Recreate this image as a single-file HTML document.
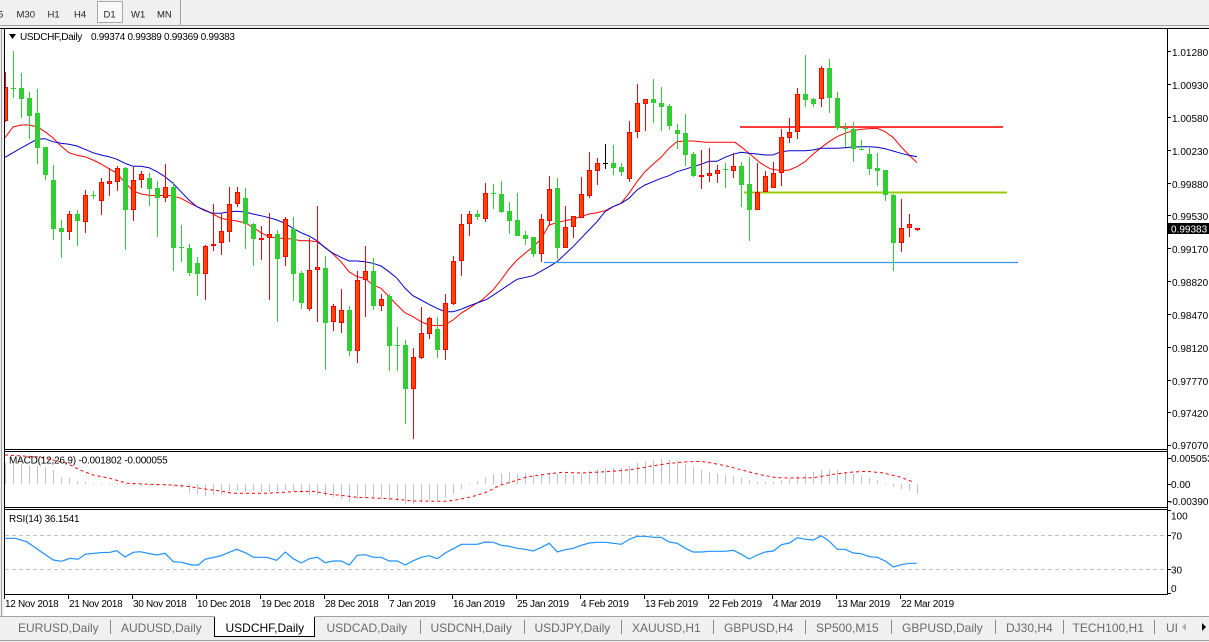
<!DOCTYPE html>
<html><head><meta charset="utf-8"><style>
html,body{margin:0;padding:0;background:#fff;}
svg{display:block;font-family:"Liberation Sans",sans-serif;}
</style></head><body>
<svg width="1209" height="642" viewBox="0 0 1209 642" xmlns="http://www.w3.org/2000/svg">
<defs>
<clipPath id="cm"><rect x="5" y="29" width="1162" height="420"/></clipPath>
<clipPath id="cd"><rect x="5" y="452" width="1162" height="55"/></clipPath>
<clipPath id="cr"><rect x="5" y="510" width="1162" height="84"/></clipPath>
</defs>
<!-- toolbar -->
<rect x="0" y="0" width="1209" height="28" fill="#f0f0f0"/>
<line x1="0" y1="25.5" x2="1209" y2="25.5" stroke="#a0a0a0"/>
<line x1="180.5" y1="0" x2="180.5" y2="25" stroke="#a0a0a0"/>
<rect x="97.5" y="1.5" width="25" height="21" fill="#f8f8f8" stroke="#a8a8a8"/>
<g font-size="9.5" fill="#222">
<text x="-2" y="17.5">5</text>
<text x="16.5" y="17.5">M30</text>
<text x="47.5" y="17.5">H1</text>
<text x="74" y="17.5">H4</text>
<text x="103.5" y="17.5">D1</text>
<text x="131" y="17.5">W1</text>
<text x="157" y="17.5">MN</text>
</g>
<!-- chart frame -->
<rect x="0" y="28" width="4" height="588" fill="#f0f0f0"/>
<line x1="1.5" y1="28" x2="1.5" y2="616" stroke="#a0a0a0"/>
<line x1="0" y1="28.5" x2="1209" y2="28.5" stroke="#000"/>
<line x1="4.5" y1="28" x2="4.5" y2="595" stroke="#000"/>
<line x1="1167.5" y1="28" x2="1167.5" y2="595" stroke="#000"/>
<line x1="4" y1="449.5" x2="1168" y2="449.5" stroke="#000"/>
<line x1="4" y1="451.5" x2="1168" y2="451.5" stroke="#000"/>
<line x1="4" y1="507.5" x2="1168" y2="507.5" stroke="#000"/>
<line x1="4" y1="509.5" x2="1168" y2="509.5" stroke="#000"/>
<line x1="4" y1="594.5" x2="1168" y2="594.5" stroke="#000"/>

<!-- main chart -->
<g clip-path="url(#cm)">
<polyline fill="none" stroke="#ff0000" stroke-width="1" points="5,137.7 13,127 21,125 29,125 37,126.7 45,131.7 53,138 61,146 69,152.7 77,155.3 85,156.7 93,160 101,164 109,168.7 117,173.3 125,182.7 133,190.7 141,194 149,195.3 157,195.7 165,195.3 173,196 181,198.3 189,202.7 197,206.7 205,210 213,214 221,218.3 229,220 237,221 245,222.7 253,227.3 261,232.7 269,236.7 277,238.3 285,238.3 293,239.3 301,240.7 309,240.7 317,241.7 325,247.3 333,254 341,261.7 349,271.7 357,276.7 365,278.3 373,285 381,288.3 389,296.7 397,305 405,312.7 413,316.7 421,321.7 429,325 437,325.7 445,325 453,320 461,313.3 469,308.3 477,303 482,300 493,290 501,280 509,269 517,260 525,253.3 533,246.7 541,239.3 549,225 557,222.7 565,220.7 573,219 581,216.7 589,214 597,212.7 605,210.7 613,206.7 621,203.3 629,193.3 637,181.7 645,171.7 653,164.3 661,157.3 669,148.3 677,141.7 685,141 693,141 706,142.3 735,142.3 743,148.3 751,155 760,162.7 770,168.7 781,170.7 789,170 797,166.7 805,161.7 813,154.3 821,147.7 829,141.7 837,136.7 845,133.3 853,130.7 861,129.3 869,128.7 877,128.3 885,131.7 893,137.3 901,146.7 909,155 917,162.7"/>
<polyline fill="none" stroke="#0000c8" stroke-width="1" points="5,157.3 13,152.7 21,148 29,143.7 37,139.3 45,138.7 53,141.7 61,143.3 69,144.3 77,146 85,149.3 93,152.7 101,155 109,156.7 117,159.3 125,163.3 133,166.3 141,166.3 149,167.7 157,171.7 165,176.7 173,183.3 181,191.7 189,200 197,206.7 205,210.7 213,213.3 221,213.3 229,211.7 237,211.3 245,212 253,214 261,215.7 269,217.7 277,220 285,223.3 293,228.3 301,232.7 309,236 317,240.7 325,247.7 333,253.3 341,257.3 349,261 357,261 365,261.7 373,263.3 381,266 389,271.7 397,278.3 405,288.3 413,295.7 421,300 429,304.3 437,308.3 445,311.7 453,311.7 461,309.3 469,306 477,303 487,299.3 501,290 517,279.3 533,275.7 549,266.7 557,261.7 565,254.3 573,246.7 581,238.3 589,230 597,221.7 605,211.7 613,206.7 621,203.3 629,198.3 637,190 645,185 653,181.7 661,178.3 669,175.7 677,171.7 685,169.3 693,166.7 701,164.3 709,161.3 717,161.3 725,157.3 733,154.3 741,152.3 749,153.3 757,154 765,155 773,155 781,151.7 789,150.7 797,150.7 805,150.7 813,150 821,148.3 829,148.3 837,148.3 845,147.7 853,147 861,146.7 869,146.7 877,147.3 885,148.7 893,151 901,153.3 909,155.3 917,156.7"/>
<!-- horizontal lines -->
<line x1="740" y1="127" x2="1003" y2="127" stroke="#ff3b3b" stroke-width="2"/>
<line x1="744" y1="192.5" x2="1007" y2="192.5" stroke="#99cc00" stroke-width="2"/>
<line x1="544" y1="262.5" x2="1018" y2="262.5" stroke="#3399ee" stroke-width="1.3"/>
<!-- red wicks -->
<path fill="none" stroke="#ff0000" stroke-width="1" d="M5.5 72V122M69.5 211V240M85.5 190V233M101.5 178V215M109.5 168V196M117.5 166V191M133.5 167V221M141.5 171V188M165.5 164V202M205.5 245V300M213.5 204V251M221.5 213V255M229.5 187V242M237.5 187V207M261.5 226V260M269.5 213V300M285.5 217V266M309.5 238V311M317.5 206V322M333.5 304V331M341.5 289V333M357.5 271V363M365.5 246V317M381.5 294V311M413.5 348V439M421.5 307V359M429.5 317V339M445.5 294V360M453.5 256V305M461.5 214V276M469.5 211V236M485.5 183V222M541.5 214V262M549.5 176V226M565.5 206V248M573.5 216V238M581.5 177V218M589.5 152V198M597.5 158V185M629.5 121V182M637.5 84V138M645.5 99V131M701.5 150V189M709.5 148V182M717.5 165V183M733.5 153V178M757.5 163V210M765.5 171V192M773.5 162V188M781.5 129V186M789.5 118V143M797.5 88V139M821.5 66V107M901.5 199V252M909.5 214V237M917.5 228V231"/>
<!-- green wicks -->
<path fill="none" stroke="#32cd32" stroke-width="1" d="M13.5 51V98M21.5 73V118M29.5 92V139M37.5 89V164M45.5 147V180M53.5 165V240M61.5 220V258M77.5 210V246M93.5 191V199M125.5 167V250M149.5 173V206M157.5 181V237M173.5 182V271M181.5 225V262M189.5 244V276M197.5 257V296M245.5 188V249M253.5 223V266M277.5 230V322M293.5 217V301M301.5 271V309M325.5 256V370M349.5 306V356M373.5 258V310M389.5 294V371M397.5 327V371M405.5 340V424M437.5 317V358M477.5 210V220M493.5 184V209M501.5 181V213M509.5 202V234M517.5 193V236M525.5 231V245M533.5 237V257M557.5 178V259M613.5 145V175M621.5 163V176M653.5 79V123M661.5 87V131M669.5 104V130M677.5 124V149M685.5 114V166M693.5 152V177M725.5 163V188M741.5 162V207M749.5 157V241M805.5 55V107M813.5 98V107M829.5 59V113M837.5 92V130M845.5 123V147M853.5 122V162M861.5 140V150M869.5 148V175M877.5 153V186M885.5 170V201M893.5 194V271"/>
<!-- red bodies -->
<g fill="#ff4500" stroke="#ff0000" stroke-width="1">
<rect x="3.5" y="87.5" width="4" height="33"/>
<rect x="67.5" y="214.5" width="4" height="17"/>
<rect x="83.5" y="195.5" width="4" height="26"/>
<rect x="99.5" y="182.5" width="4" height="18"/>
<rect x="107.5" y="181.5" width="4" height="2"/>
<rect x="115.5" y="168.5" width="4" height="13"/>
<rect x="131.5" y="180.5" width="4" height="29"/>
<rect x="139.5" y="174.5" width="4" height="5"/>
<rect x="163.5" y="187.5" width="4" height="10"/>
<rect x="203.5" y="246.5" width="4" height="27"/>
<rect x="211.5" y="244.5" width="4" height="1"/>
<rect x="219.5" y="231.5" width="4" height="11"/>
<rect x="227.5" y="204.5" width="4" height="27"/>
<rect x="235.5" y="192.5" width="4" height="11"/>
<rect x="259.5" y="238.5" width="4" height="1"/>
<rect x="267.5" y="234.5" width="4" height="3"/>
<rect x="283.5" y="219.5" width="4" height="37"/>
<rect x="307.5" y="270.5" width="4" height="38"/>
<rect x="315.5" y="267.5" width="4" height="2"/>
<rect x="331.5" y="306.5" width="4" height="15"/>
<rect x="339.5" y="310.5" width="4" height="12"/>
<rect x="355.5" y="280.5" width="4" height="70"/>
<rect x="363.5" y="271.5" width="4" height="8"/>
<rect x="379.5" y="299.5" width="4" height="6"/>
<rect x="411.5" y="357.5" width="4" height="31"/>
<rect x="419.5" y="333.5" width="4" height="24"/>
<rect x="427.5" y="318.5" width="4" height="15"/>
<rect x="443.5" y="303.5" width="4" height="46"/>
<rect x="451.5" y="261.5" width="4" height="42"/>
<rect x="459.5" y="224.5" width="4" height="36"/>
<rect x="467.5" y="214.5" width="4" height="9"/>
<rect x="483.5" y="193.5" width="4" height="25"/>
<rect x="539.5" y="219.5" width="4" height="34"/>
<rect x="547.5" y="189.5" width="4" height="31"/>
<rect x="563.5" y="227.5" width="4" height="20"/>
<rect x="571.5" y="216.5" width="4" height="10"/>
<rect x="579.5" y="194.5" width="4" height="23"/>
<rect x="587.5" y="170.5" width="4" height="25"/>
<rect x="595.5" y="163.5" width="4" height="7"/>
<rect x="627.5" y="132.5" width="4" height="46"/>
<rect x="635.5" y="103.5" width="4" height="28"/>
<rect x="643.5" y="99.5" width="4" height="4"/>
<rect x="699.5" y="175.5" width="4" height="1"/>
<rect x="707.5" y="173.5" width="4" height="2"/>
<rect x="715.5" y="170.5" width="4" height="3"/>
<rect x="731.5" y="166.5" width="4" height="4"/>
<rect x="755.5" y="192.5" width="4" height="17"/>
<rect x="763.5" y="176.5" width="4" height="15"/>
<rect x="771.5" y="173.5" width="4" height="14"/>
<rect x="779.5" y="137.5" width="4" height="35"/>
<rect x="787.5" y="132.5" width="4" height="5"/>
<rect x="795.5" y="94.5" width="4" height="37"/>
<rect x="819.5" y="68.5" width="4" height="30"/>
<rect x="899.5" y="228.5" width="4" height="14"/>
<rect x="907.5" y="224.5" width="4" height="3"/>
<rect x="915.5" y="228.5" width="4" height="1"/>
</g>
<!-- green bodies -->
<g fill="#32cd32" stroke="#32cd32" stroke-width="1">
<rect x="19.5" y="88.5" width="4" height="10"/>
<rect x="27.5" y="98.5" width="4" height="17"/>
<rect x="35.5" y="113.5" width="4" height="34"/>
<rect x="43.5" y="147.5" width="4" height="27"/>
<rect x="51.5" y="180.5" width="4" height="48"/>
<rect x="59.5" y="228.5" width="4" height="3"/>
<rect x="75.5" y="214.5" width="4" height="6"/>
<rect x="123.5" y="168.5" width="4" height="41"/>
<rect x="147.5" y="178.5" width="4" height="10"/>
<rect x="155.5" y="188.5" width="4" height="9"/>
<rect x="171.5" y="187.5" width="4" height="60"/>
<rect x="187.5" y="248.5" width="4" height="24"/>
<rect x="195.5" y="263.5" width="4" height="10"/>
<rect x="243.5" y="198.5" width="4" height="25"/>
<rect x="251.5" y="224.5" width="4" height="14"/>
<rect x="275.5" y="234.5" width="4" height="24"/>
<rect x="291.5" y="229.5" width="4" height="44"/>
<rect x="299.5" y="273.5" width="4" height="29"/>
<rect x="323.5" y="268.5" width="4" height="54"/>
<rect x="347.5" y="310.5" width="4" height="40"/>
<rect x="371.5" y="271.5" width="4" height="34"/>
<rect x="387.5" y="296.5" width="4" height="49"/>
<rect x="403.5" y="345.5" width="4" height="43"/>
<rect x="435.5" y="329.5" width="4" height="20"/>
<rect x="475.5" y="214.5" width="4" height="2"/>
<rect x="499.5" y="194.5" width="4" height="17"/>
<rect x="507.5" y="211.5" width="4" height="9"/>
<rect x="515.5" y="220.5" width="4" height="15"/>
<rect x="523.5" y="235.5" width="4" height="3"/>
<rect x="531.5" y="237.5" width="4" height="16"/>
<rect x="555.5" y="188.5" width="4" height="59"/>
<rect x="611.5" y="163.5" width="4" height="4"/>
<rect x="619.5" y="167.5" width="4" height="4"/>
<rect x="651.5" y="99.5" width="4" height="3"/>
<rect x="659.5" y="103.5" width="4" height="3"/>
<rect x="667.5" y="106.5" width="4" height="19"/>
<rect x="675.5" y="130.5" width="4" height="3"/>
<rect x="683.5" y="133.5" width="4" height="21"/>
<rect x="691.5" y="154.5" width="4" height="21"/>
<rect x="739.5" y="166.5" width="4" height="18"/>
<rect x="747.5" y="184.5" width="4" height="25"/>
<rect x="803.5" y="94.5" width="4" height="5"/>
<rect x="811.5" y="99.5" width="4" height="4"/>
<rect x="827.5" y="68.5" width="4" height="29"/>
<rect x="835.5" y="98.5" width="4" height="29"/>
<rect x="851.5" y="129.5" width="4" height="19"/>
<rect x="867.5" y="154.5" width="4" height="14"/>
<rect x="875.5" y="168.5" width="4" height="2"/>
<rect x="883.5" y="170.5" width="4" height="24"/>
<rect x="891.5" y="195.5" width="4" height="47"/>
</g>
<!-- green crosses -->
<g fill="#32cd32">
<rect x="11" y="88" width="5" height="1"/>
<rect x="91" y="195" width="5" height="1"/>
<rect x="179" y="247" width="5" height="1"/>
<rect x="395" y="345" width="5" height="1"/>
<rect x="491" y="193" width="5" height="1"/>
<rect x="723" y="169" width="5" height="1"/>
<rect x="843" y="128" width="5" height="1"/>
<rect x="859" y="149" width="5" height="1"/>
</g>
<path fill="none" stroke="#000" stroke-width="1" d="M605.5 144V169M603 163.5h5"/>
</g>
<!-- header -->
<polygon points="9,34 16,34 12.5,39" fill="#000"/>
<text x="20" y="40" font-size="10" letter-spacing="-0.3" fill="#000">USDCHF,Daily</text>
<text x="91" y="40" font-size="10" letter-spacing="-0.3" fill="#000">0.99374 0.99389 0.99369 0.99383</text>

<!-- right price axis -->
<path stroke="#000" stroke-width="1" d="M1167 51.5h4M1167 84.5h4M1167 117.5h4M1167 150.5h4M1167 183.5h4M1167 215.5h4M1167 248.5h4M1167 281.5h4M1167 314.5h4M1167 347.5h4M1167 380.5h4M1167 412.5h4M1167 445.5h4"/>
<g font-size="10" fill="#000">
<text x="1172" y="56">1.01280</text>
<text x="1172" y="89">1.00930</text>
<text x="1172" y="122">1.00580</text>
<text x="1172" y="155">1.00230</text>
<text x="1172" y="188">0.99880</text>
<text x="1172" y="220">0.99530</text>
<text x="1172" y="253">0.99170</text>
<text x="1172" y="286">0.98820</text>
<text x="1172" y="319">0.98470</text>
<text x="1172" y="352">0.98120</text>
<text x="1172" y="385">0.97770</text>
<text x="1172" y="417">0.97420</text>
<text x="1172" y="449">0.97070</text>
</g>
<rect x="1168" y="223" width="41" height="11" fill="#000"/>
<text x="1171" y="232.5" font-size="10" fill="#fff">0.99383</text>

<!-- MACD -->
<g clip-path="url(#cd)">
<path fill="none" stroke="#c0c0c0" stroke-width="1" d="M5.5 484V463M13.5 484V464M21.5 484V464M29.5 484V465M37.5 484V466M45.5 484V467M53.5 484V470M61.5 484V477M69.5 484V478M77.5 484V481M85.5 484V482M93.5 484V483M101.5 484V485M109.5 484V485M117.5 484V485M125.5 484V485M133.5 484V485M141.5 484V486M149.5 484V486M157.5 484V486M165.5 484V486M173.5 484V487M181.5 484V488M189.5 484V493M197.5 484V494M205.5 484V496M213.5 484V495M221.5 484V494M229.5 484V491M237.5 484V490M245.5 484V492M253.5 484V491M261.5 484V492M269.5 484V492M277.5 484V491M285.5 484V490M293.5 484V491M301.5 484V493M309.5 484V495M317.5 484V495M325.5 484V496M333.5 484V497M341.5 484V499M349.5 484V502M357.5 484V499M365.5 484V498M373.5 484V498M381.5 484V499M389.5 484V500M397.5 484V501M405.5 484V504M413.5 484V504M421.5 484V502M429.5 484V501M437.5 484V501M445.5 484V498M453.5 484V494M461.5 484V489M469.5 484V485M477.5 484V481M485.5 484V477M493.5 484V474M501.5 484V473M509.5 484V472M517.5 484V474M525.5 484V473M533.5 484V475M541.5 484V474M549.5 484V473M557.5 484V474M565.5 484V474M573.5 484V475M581.5 484V473M589.5 484V471M597.5 484V469M605.5 484V468M613.5 484V468M621.5 484V468M629.5 484V466M637.5 484V463M645.5 484V461M653.5 484V460M661.5 484V459M669.5 484V460M677.5 484V461M685.5 484V464M693.5 484V467M701.5 484V470M709.5 484V472M717.5 484V473M725.5 484V475M733.5 484V476M741.5 484V478M749.5 484V480M757.5 484V482M765.5 484V482M773.5 484V482M781.5 484V480M789.5 484V479M797.5 484V476M805.5 484V474M813.5 484V472M821.5 484V470M829.5 484V469M837.5 484V470M845.5 484V472M853.5 484V474M861.5 484V476M869.5 484V478M877.5 484V480M885.5 484V483M893.5 484V487M901.5 484V489M909.5 484V491M917.5 484V494"/>
<polyline fill="none" stroke="#ff0000" stroke-width="1" stroke-dasharray="3 3" points="5,455 40,457 67,463.3 80,470 93,475 110,478.3 127,483.3 150,484.3 173,485 190,486.7 207,489.3 220,491 233,493.3 267,493.3 293,491.7 313,491.3 330,494.3 346.7,496 356.7,497.3 380,498.3 396.7,499.3 413.3,501 446.7,501.3 460,499.3 473.3,496.3 486.7,492 500,485.3 513.3,481.3 526.7,477 546.7,474 563.3,472.3 580,473 600,472 616.7,471 633.3,469.3 650,466.3 666.7,463.7 683.3,462 700,461.3 710,462.7 726.7,466 743.3,470.3 760,474.7 776.7,477.7 793.3,478 813.3,477.7 833.3,474.3 853.3,472 866.7,471.3 883.3,473 900,477 913.3,482"/>
</g>
<text x="9" y="463.5" font-size="10" letter-spacing="-0.2" fill="#000">MACD(12,26,9) -0.001802 -0.000055</text>
<path stroke="#000" d="M1167 458.5h4M1167 484.5h4M1167 501.5h4"/>
<g font-size="10" fill="#000">
<text x="1171" y="462">0.005053</text>
<text x="1171" y="488">0.00</text>
<text x="1169" y="505">-0.003909</text>
</g>

<!-- RSI -->
<g clip-path="url(#cr)">
<line x1="5" y1="535.5" x2="1167" y2="535.5" stroke="#c0c0c0" stroke-dasharray="4 3"/>
<line x1="5" y1="569.5" x2="1167" y2="569.5" stroke="#c0c0c0" stroke-dasharray="4 3"/>
<polyline fill="none" stroke="#1e90ff" stroke-width="1.2" points="5,538.3 15,538.3 26.7,541.7 40,551 53.3,560 61.7,561.3 70,558.3 78.3,559.3 85,554.3 100,552.7 110,552.3 116.7,550.7 125,557 133.3,552.3 140,551.7 156.7,555 165,553.3 173.3,561.7 181.7,562.3 191.7,565 198.3,565 205,559.3 220,556 236.7,549.3 246.7,553.3 253.3,557.3 266.7,557.3 276.7,560.3 285.3,552 293.3,558.7 301.3,563 309.3,558.7 317.3,557.3 325.3,562.7 333.3,561 341.3,561 349.3,565 357.3,555.3 365.3,554.7 373.3,557.3 381.3,557.3 389.3,561 397.3,561 405.3,565 413.3,560.7 421.3,557.3 429.3,555.7 437.3,558.7 445.3,553 453.3,548.7 461.3,544.3 469.3,544.3 477.3,544.3 485.3,542 493.3,542.3 501.3,545.3 509.3,546.3 517.3,548.3 525.3,549.3 533.3,551 541.3,547.3 549.3,543.3 557.3,552 565.3,549.7 573.3,548.3 581.3,545.3 589.3,543 597.3,542.3 605.3,542.3 613.3,543.3 621.3,544.3 629.3,539.3 637.3,536.3 645.3,536.3 653.3,537.3 661.3,537.3 669.3,542 677.3,543.3 685.3,548.3 693.3,552 701.3,552 709.3,551.3 717.3,551.3 725.3,551.3 733.3,550.3 741.3,554.3 749.3,559 757.3,555 765.3,552 773.3,551 781.3,544.7 789.3,543 797.3,537.7 805.3,539.3 813.3,540 821.3,535.7 829.3,541.3 837.3,549.3 845.3,549.3 853.3,553 861.3,553.7 869.3,556.7 877.3,557.3 885.3,561 893.3,567 901.3,564.7 909.3,563.3 916.7,563.3"/>
</g>
<text x="9" y="522" font-size="10" letter-spacing="-0.2" fill="#000">RSI(14) 36.1541</text>
<path stroke="#000" d="M1167 510.5h4M1167 535.5h4M1167 569.5h4M1167 593.5h4"/>
<g font-size="10" fill="#000">
<text x="1171" y="519.5">100</text>
<text x="1171" y="539.5">70</text>
<text x="1171" y="573.5">30</text>
<text x="1171" y="592">0</text>
</g>

<!-- date axis -->
<path stroke="#000" d="M4.5 595v4M68.5 595v4M132.5 595v4M196.5 595v4M260.5 595v4M324.5 595v4M388.5 595v4M452.5 595v4M516.5 595v4M580.5 595v4M644.5 595v4M708.5 595v4M772.5 595v4M836.5 595v4M900.5 595v4"/>
<g font-size="10" letter-spacing="-0.3" fill="#000">
<text x="5" y="607">12 Nov 2018</text>
<text x="69" y="607">21 Nov 2018</text>
<text x="133" y="607">30 Nov 2018</text>
<text x="197" y="607">10 Dec 2018</text>
<text x="261" y="607">19 Dec 2018</text>
<text x="325" y="607">28 Dec 2018</text>
<text x="389" y="607">7 Jan 2019</text>
<text x="453" y="607">16 Jan 2019</text>
<text x="517" y="607">25 Jan 2019</text>
<text x="581" y="607">4 Feb 2019</text>
<text x="645" y="607">13 Feb 2019</text>
<text x="709" y="607">22 Feb 2019</text>
<text x="773" y="607">4 Mar 2019</text>
<text x="837" y="607">13 Mar 2019</text>
<text x="901" y="607">22 Mar 2019</text>
</g>

<!-- tab bar -->
<rect x="0" y="616" width="1209" height="26" fill="#f0f0f0"/>
<line x1="0" y1="616.5" x2="1209" y2="616.5" stroke="#a0a0a0"/>
<line x1="0" y1="640.5" x2="1209" y2="640.5" stroke="#a0a0a0"/>
<rect x="214.5" y="616" width="100" height="20.5" fill="#fff"/>
<path fill="none" stroke="#000" d="M214.5 617V636.5H314.5V617"/>
<path stroke="#8a8a8a" d="M110.5 620v14M420.5 620v14M524.5 620v14M621.5 620v14M713.5 620v14M805.5 620v14M891.5 620v14M995.5 620v14M1063.5 620v14M1154.5 620v14"/>
<g font-size="12" fill="#6a6a6a">
<text x="18" y="632">EURUSD,Daily</text>
<text x="121" y="632">AUDUSD,Daily</text>
<text x="326.5" y="632">USDCAD,Daily</text>
<text x="430.5" y="632">USDCNH,Daily</text>
<text x="534.5" y="632">USDJPY,Daily</text>
<text x="632" y="632">XAUUSD,H1</text>
<text x="724" y="632">GBPUSD,H4</text>
<text x="816" y="632">SP500,M15</text>
<text x="902" y="632">GBPUSD,Daily</text>
<text x="1006" y="632">DJ30,H4</text>
<text x="1072.5" y="632">TECH100,H1</text>
<text x="1166" y="632">UI</text>
</g>
<text x="225.5" y="632" font-size="12" fill="#000">USDCHF,Daily</text>
<rect x="1178" y="617" width="31" height="23" fill="#f0f0f0"/>
<polygon points="1186,623 1186,631 1182,627" fill="#b0b0b0"/>
<polygon points="1202,623 1202,631 1206,627" fill="#000"/>
</svg>
</body></html>
